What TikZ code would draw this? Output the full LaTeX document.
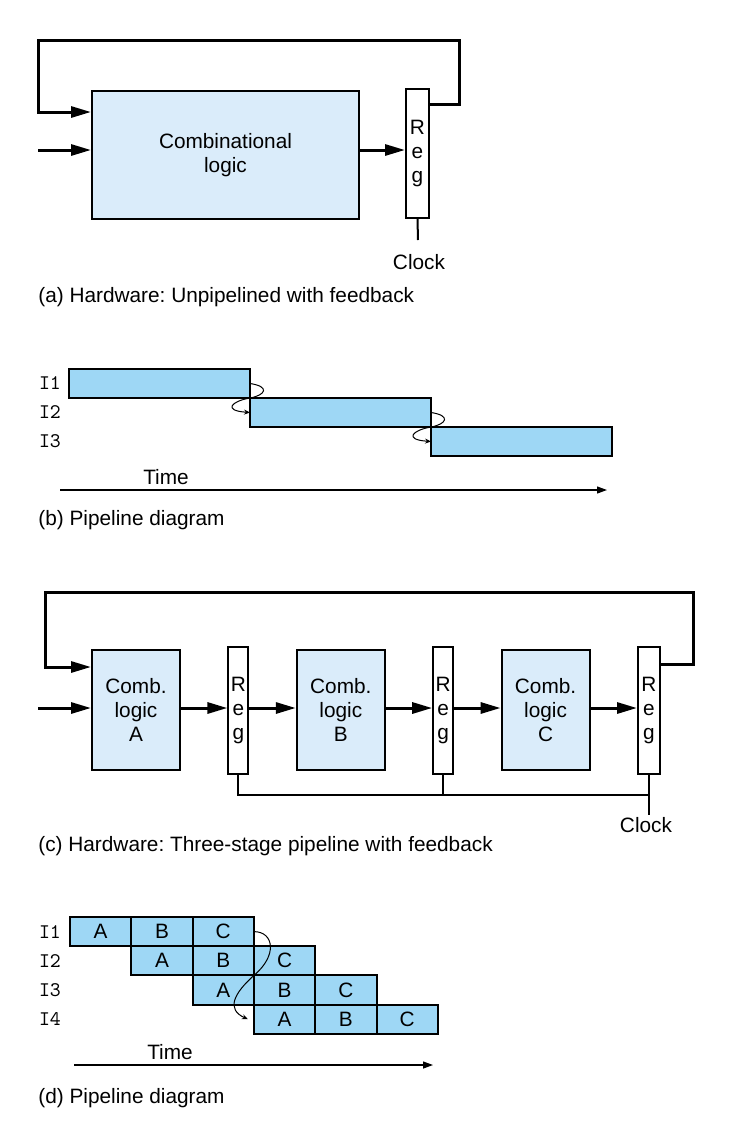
\documentclass[tikz,border=0pt]{standalone}
\usepackage{fontspec}
\setmainfont{Liberation Sans}
\usepackage{tikz}
\usetikzlibrary{positioning,arrows.meta}
\definecolor{combfill}{RGB}{218,236,250}
\definecolor{barfill}{RGB}{158,215,245}
\newcommand{\figfont}{\fontsize{10.4}{12}\selectfont}
\frenchspacing

\begin{document}
\begin{tikzpicture}[
    x=0.5pt, y=-0.5pt,
    node distance=23.2pt,
    comb/.style={rectangle, draw, line width=1pt, fill=combfill, inner sep=0pt,
                 align=center, font=\figfont},
    combstage/.style={comb, minimum width=44pt, minimum height=60pt},
    regbox/.style={rectangle, draw, line width=1pt, fill=white, inner sep=0pt,
                   minimum width=10pt, minimum height=63.5pt, align=center, font=\figfont},
    stagebar/.style={rectangle, draw, line width=1pt, fill=barfill, outer sep=0pt,
                     minimum width=90.5pt, minimum height=14.5pt},
    cell/.style={rectangle, draw, line width=1pt, fill=barfill, outer sep=0pt, inner sep=0pt,
                 minimum width=30.65pt, minimum height=14.6pt, font=\figfont},
    instr/.style={font=\figfont\ttfamily, inner sep=0pt},
    lbl/.style={font=\figfont, inner sep=0pt},
    caption/.style={font=\figfont, inner sep=0pt, anchor=west},
    bus/.style={-{Triangle[length=10pt,width=5.5pt]}, line width=1.5pt},
    wire/.style={line width=1pt},
    timeaxis/.style={-{Triangle[length=5pt,width=3.5pt]}, line width=0.6pt},
    hop/.style={-{Stealth[length=3pt,width=2.5pt]}, line width=0.5pt},
]
\useasboundingbox (0,0) rectangle (750,1148);

% (a) Unpipelined hardware
\node[comb, minimum width=133.5pt, minimum height=64pt] (logic) at (225.5,155) {Combinational\\logic};
\node[regbox, minimum width=11.5pt, minimum height=64.5pt] (rega) at (417.5,153.5) {R\\e\\g};
\coordinate (ina) at (38,150);
\coordinate (fba) at (459,40);
\coordinate (fbal) at (38,40);
\coordinate (clka) at (418,240);

\draw[bus] (ina) -- (ina -| logic.west);
\draw[bus] (logic.east |- ina) -- (rega.west |- ina);
\draw[bus] (rega.east |- 0,104) -| (fba) -- (fbal) |- (logic.west |- 0,112);
\draw[wire] (rega.south) -- (clka);

\node[lbl] (clocka) at (419,262) {Clock};
\node[caption] (capa) at (38,297) {(a) Hardware: Unpipelined with feedback};

% (b) Pipeline diagram, one stage
\node[stagebar] (bar1) at (159.5,383.5) {};
\node[stagebar, below right=0pt and 0pt of bar1] (bar2) {};
\node[stagebar, below right=0pt and 0pt of bar2] (bar3) {};

\node[instr] (ib1) at (bar1.west -| 50,0) {I1};
\node[instr] (ib2) at (bar2.west -| 50,0) {I2};
\node[instr] (ib3) at (bar3.west -| 50,0) {I3};

\draw[hop] (bar1.east) .. controls +(20,3) and +(16,-3) .. (bar1.south east)
           .. controls +(-18,3) and +(-28,-2) .. (bar2.west);
\draw[hop] (bar2.east) .. controls +(20,3) and +(16,-3) .. (bar2.south east)
           .. controls +(-18,3) and +(-28,-2) .. (bar3.west);

\coordinate (tb0) at (60,490);
\coordinate (tb1) at (607,490);
\draw[timeaxis] (tb0) -- (tb1);
\node[lbl] (timeb) at (166,477) {Time};
\node[caption] (capb) at (38,520) {(b) Pipeline diagram};

% (c) Three-stage pipelined hardware
\node[combstage] (ca) at (136,710) {Comb.\\logic\\A};
\node[regbox, right=of ca] (r1) {R\\e\\g};
\node[combstage, right=of r1] (cb) {Comb.\\logic\\B};
\node[regbox, right=of cb] (r2) {R\\e\\g};
\node[combstage, right=of r2] (cc) {Comb.\\logic\\C};
\node[regbox, minimum width=11pt, right=of cc] (r3) {R\\e\\g};
\coordinate (inc) at (38,708);
\coordinate (fbc) at (693,592);
\coordinate (fbcl) at (45,592);
\coordinate (clkc) at (r3.south |- 0,815);

\draw[bus] (inc) -- (inc -| ca.west);
\draw[bus] (ca.east |- inc) -- (r1.west |- inc);
\draw[bus] (r1.east |- inc) -- (cb.west |- inc);
\draw[bus] (cb.east |- inc) -- (r2.west |- inc);
\draw[bus] (r2.east |- inc) -- (cc.west |- inc);
\draw[bus] (cc.east |- inc) -- (r3.west |- inc);
\draw[bus] (r3.east |- 0,664) -| (fbc) -- (fbcl) |- (ca.west |- 0,667);

% clock bus
\draw[wire] (r1.south) |- (r3.south |- 0,795);
\draw[wire] (r2.south) -- (r2.south |- 0,795);
\draw[wire] (r3.south) -- (clkc);

\node[lbl] (clockc) at (646,825) {Clock};
\node[caption] (capc) at (38,846) {(c) Hardware: Three-stage pipeline with feedback};

% (d) Pipeline diagram, three stages
\node[cell] (d1a) at (100.65,931.6) {A};
\node[cell, right=0pt of d1a] (d1b) {B};
\node[cell, right=0pt of d1b] (d1c) {C};
\node[cell, below=0pt of d1b] (d2a) {A};
\node[cell, right=0pt of d2a] (d2b) {B};
\node[cell, right=0pt of d2b] (d2c) {C};
\node[cell, below=0pt of d2b] (d3a) {A};
\node[cell, right=0pt of d3a] (d3b) {B};
\node[cell, right=0pt of d3b] (d3c) {C};
\node[cell, below=0pt of d3b] (d4a) {A};
\node[cell, right=0pt of d4a] (d4b) {B};
\node[cell, right=0pt of d4b] (d4c) {C};

\node[instr] (id1) at (d1a.west -| 50,0) {I1};
\node[instr] (id2) at (d2a.west -| 50,0) {I2};
\node[instr] (id3) at (d3a.west -| 50,0) {I3};
\node[instr] (id4) at (d4a.west -| 50,0) {I4};

\draw[hop] (d1c.east) .. controls +(20,0) and +(24,-20) .. (d2c.south west)
           .. controls +(-20,18) and +(-22,-10) .. ([xshift=-3pt]d4a.west);

\coordinate (td0) at (74,1065);
\coordinate (td1) at (433,1065);
\draw[timeaxis] (td0) -- (td1);
\node[lbl] (timed) at (170,1052) {Time};
\node[caption] (capd) at (38,1098) {(d) Pipeline diagram};

\end{tikzpicture}
\end{document}
